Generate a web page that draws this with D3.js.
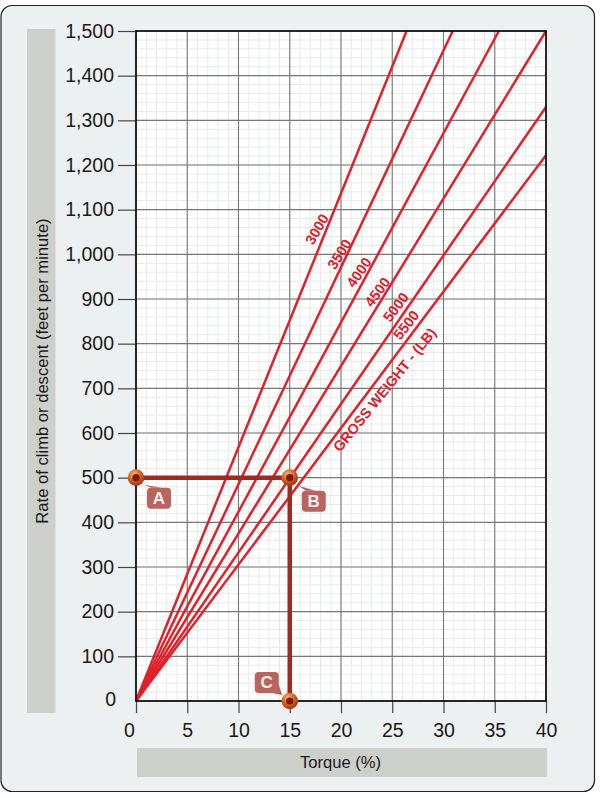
<!DOCTYPE html>
<html><head><meta charset="utf-8">
<script src="https://cdnjs.cloudflare.com/ajax/libs/d3/7.8.5/d3.min.js"></script>
<style>html,body{margin:0;padding:0;background:#fff}svg{display:block}text{font-family:"Liberation Sans",Arial,sans-serif}</style>
</head><body><div id="c"></div>
<script>
const xTicks=[0,5,10,15,20,25,30,35,40];
const yTicks=[0,100,200,300,400,500,600,700,800,900,1000,1100,1200,1300,1400,1500];
const xMinor=d3.range(0,41,1);
const yMinor=d3.range(0,1501,20);
const weights=["3000","3500","4000","4500","5000","5500"];
const lineEndTorque=[26.4,30.9,35.4,40,40,40];
const lineEndRate=[1500,1500,1500,1500,1330,1222];
const labelTorque=[17.75,19.95,21.85,23.65,25.45,26.45];
const labelRate=[1055,999,958,914,880,840];
const labelAngle=[-60,-58,-56,-54,-53,-52];
const gwTitle="GROSS WEIGHT - (LB)";
const gwPoint=[24.35,695];
const pathTorque=[0,15,15];
const pathRate=[500,500,0];
const markerNames=["A","B","C"];
const markerTorque=[0,15,15];
const markerRate=[500,500,0];

const W=600,H=798;
const svg=d3.select("#c").append("svg").attr("width",W).attr("height",H);
const x=d3.scaleLinear().domain([0,40]).range([136,546]);
const y=d3.scaleLinear().domain([0,1500]).range([701,31]);
const defs=svg.append("defs");
const g=defs.append("radialGradient").attr("id","ball").attr("cx","40%").attr("cy","30%").attr("r","70%");
g.append("stop").attr("offset","0%").attr("stop-color","#f8bb74");
g.append("stop").attr("offset","45%").attr("stop-color","#dd6c2c");
g.append("stop").attr("offset","100%").attr("stop-color","#9c3518");

svg.append("rect").attr("x",1).attr("y",5.5).attr("width",593.5).attr("height",786).attr("rx",11)
  .attr("fill","#ecf0f1").attr("stroke","#222").attr("stroke-width",1.2);
svg.append("rect").attr("x",27).attr("y",29).attr("width",28.5).attr("height",684).attr("fill","#cdcfcb");
svg.append("rect").attr("x",137).attr("y",748).attr("width",410).attr("height",29).attr("fill","#cdcfcb");

svg.append("rect").attr("x",x(0)).attr("y",y(1500)).attr("width",x(40)-x(0)).attr("height",y(0)-y(1500)).attr("fill","#fff");
svg.append("g").selectAll("line").data(xMinor).join("line")
  .attr("x1",d=>x(d)).attr("x2",d=>x(d)).attr("y1",y(0)).attr("y2",y(1500)).attr("stroke","#e8eaea").attr("stroke-width",1);
svg.append("g").selectAll("line").data(yMinor).join("line")
  .attr("y1",d=>y(d)).attr("y2",d=>y(d)).attr("x1",x(0)).attr("x2",x(40)).attr("stroke","#e8eaea").attr("stroke-width",1);

const xAxis=svg.append("g").attr("transform",`translate(0,${y(0)})`)
  .call(d3.axisBottom(x).tickValues(xTicks).tickSize(12).tickPadding(10).tickFormat(d3.format("d")));
const yAxis=svg.append("g").attr("transform",`translate(${x(0)},0)`)
  .call(d3.axisLeft(y).tickValues(yTicks).tickSize(18).tickPadding(4).tickFormat(d3.format(",")));
[xAxis,yAxis].forEach(a=>{a.select(".domain").remove();
  a.selectAll("text").attr("font-size",19.5).attr("fill","#1a1a1a").style("font-family",'"Liberation Sans",Arial,sans-serif');
  a.selectAll("line").attr("stroke","#444").attr("stroke-width",1.2);});
xAxis.selectAll("text").attr("dy","0.71em");
xAxis.selectAll(".tick").filter(d=>d===0).select("text").attr("x",-7);
yAxis.selectAll(".tick").filter(d=>d===0).select("text").attr("x",-20).attr("dy","0.22em");
yAxis.selectAll(".tick").filter(d=>d===0).select("line").remove();

svg.append("g").selectAll("line").data(xTicks.slice(1,-1)).join("line")
  .attr("x1",d=>x(d)).attr("x2",d=>x(d)).attr("y1",y(0)).attr("y2",y(1500)).attr("stroke","#777").attr("stroke-width",1.1);
svg.append("g").selectAll("line").data(yTicks.slice(1,-1)).join("line")
  .attr("y1",d=>y(d)).attr("y2",d=>y(d)).attr("x1",x(0)).attr("x2",x(40)).attr("stroke","#777").attr("stroke-width",1.1);

svg.append("g").selectAll("line").data(weights).join("line")
  .attr("x1",x(0)).attr("y1",y(0))
  .attr("x2",(d,i)=>x(lineEndTorque[i])).attr("y2",(d,i)=>y(lineEndRate[i]))
  .attr("stroke","#e0202a").attr("stroke-width",2.5);

svg.append("rect").attr("x",x(0)).attr("y",y(1500)).attr("width",x(40)-x(0)).attr("height",y(0)-y(1500))
  .attr("fill","none").attr("stroke","#111").attr("stroke-width",1.8);

svg.append("g").selectAll("text").data(weights).join("text")
  .attr("transform",(d,i)=>`translate(${x(labelTorque[i])},${y(labelRate[i])}) rotate(${labelAngle[i]})`)
  .attr("text-anchor","middle").attr("dominant-baseline","middle")
  .attr("font-size",14.5).attr("font-weight","bold").attr("fill","#d9202c").text(d=>d);
svg.append("text").attr("transform",`translate(${x(gwPoint[0])},${y(gwPoint[1])}) rotate(-51)`)
  .attr("text-anchor","middle").attr("dominant-baseline","middle")
  .attr("font-size",14.3).attr("font-weight","bold").attr("fill","#d9202c").text(gwTitle);

svg.append("path").datum(pathTorque.map((t,i)=>[t,pathRate[i]]))
  .attr("d",d3.line().x(d=>x(d[0])).y(d=>y(d[1])))
  .attr("fill","none").attr("stroke","#9e2a20").attr("stroke-width",4.5);

const callouts={A:{dx:11,dy:10,w:24,h:21,tip:[8,7],b:[[15,10],[26,10]]},
                B:{dx:12,dy:13,w:24,h:21,tip:[8.7,8],b:[[16,13],[26,13]]},
                C:{dx:-35,dy:-29,w:24,h:21,tip:[-7.5,-6],b:[[-18,-8],[-11,-16]]}};
const mk=svg.append("g").selectAll("g").data(markerNames).join("g")
  .attr("transform",(d,i)=>`translate(${x(markerTorque[i])},${y(markerRate[i])})`);
mk.append("path").attr("d",d=>{const c=callouts[d];
  return `M${c.tip[0]},${c.tip[1]}L${c.b[0][0]},${c.b[0][1]}L${c.b[1][0]},${c.b[1][1]}Z`;}).attr("fill","#b8645f");
mk.append("rect").attr("x",d=>callouts[d].dx).attr("y",d=>callouts[d].dy).attr("width",d=>callouts[d].w).attr("height",d=>callouts[d].h)
  .attr("rx",4).attr("fill","#b8645f");
mk.append("text").attr("x",d=>callouts[d].dx+callouts[d].w/2).attr("y",d=>callouts[d].dy+callouts[d].h/2+1)
  .attr("text-anchor","middle").attr("dominant-baseline","middle").attr("font-size",17).attr("font-weight","bold").attr("fill","#f4eeee").text(d=>d);
mk.append("circle").attr("r",8.3).attr("fill","url(#ball)");
mk.append("circle").attr("r",3.6).attr("fill","#7c1a10");

svg.append("text").attr("x",340.5).attr("y",768).attr("text-anchor","middle").attr("font-size",16.6).attr("fill","#1a1a1a").text("Torque (%)");
svg.append("text").attr("transform","translate(47.5,371) rotate(-90)").attr("text-anchor","middle").attr("font-size",16.6).attr("fill","#1a1a1a").text("Rate of climb or descent (feet per minute)");
</script></body></html>
